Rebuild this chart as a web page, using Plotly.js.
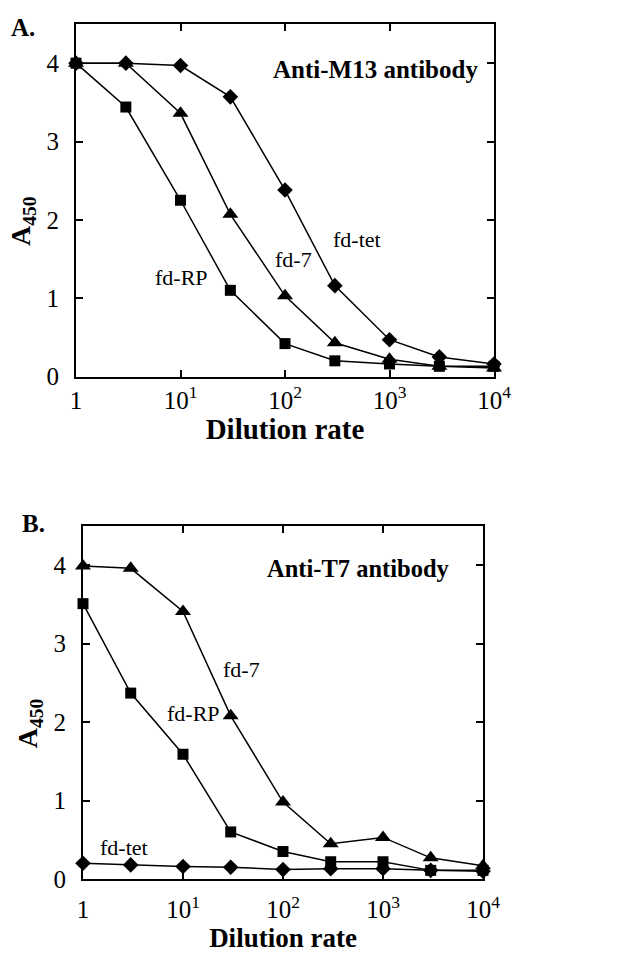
<!DOCTYPE html>
<html>
<head>
<meta charset="utf-8">
<script src="https://cdn.plot.ly/plotly-3.0.1.min.js"></script>
<style>html,body{margin:0;padding:0;background:#fff;}#chart{width:620px;height:963px;}</style>
</head>
<body>
<div id="chart"></div>
<script>
// Dilution rates (x values)
const dilution = [1, 3, 10, 30, 100, 300, 1000, 3000, 10000];
const xTickVals = [1, 10, 100, 1000, 10000];
const xTickText = ['1', '10<sup>1</sup>', '10<sup>2</sup>', '10<sup>3</sup>', '10<sup>4</sup>'];
const yTickVals = [0, 1, 2, 3, 4];

// Panel A: Anti-M13 antibody
const a_fdRP  = [4.00, 3.44, 2.25, 1.10, 0.42, 0.20, 0.16, 0.13, 0.13];
const a_fd7   = [4.00, 4.00, 3.36, 2.07, 1.03, 0.43, 0.22, 0.13, 0.11];
const a_fdTet = [4.00, 4.00, 3.97, 3.57, 2.38, 1.16, 0.47, 0.25, 0.16];

// Panel B: Anti-T7 antibody
const b_fdRP  = [3.51, 2.37, 1.59, 0.60, 0.35, 0.22, 0.22, 0.11, 0.11];
const b_fd7   = [3.99, 3.96, 3.41, 2.08, 0.98, 0.45, 0.53, 0.27, 0.17];
const b_fdTet = [0.20, 0.18, 0.16, 0.15, 0.12, 0.13, 0.13, 0.11, 0.10];

const W = 620, H = 963;
const FONT = 'Liberation Serif';
const px = v => v / W;
const py = v => 1 - v / H;

function series(y, sym, size, xa, ya, name) {
  return {
    x: dilution, y: y, xaxis: xa, yaxis: ya, name: name,
    type: 'scatter', mode: 'lines+markers', cliponaxis: false,
    line: {color: '#000', width: 1.5},
    marker: {symbol: sym, size: size, color: '#000'},
    showlegend: false
  };
}

const data = [
  series(a_fdRP, 'square', 11, 'x', 'y', 'fd-RP'),
  series(a_fd7, 'triangle-up', 14, 'x', 'y', 'fd-7'),
  series(a_fdTet, 'diamond', 12, 'x', 'y', 'fd-tet'),
  series(b_fdRP, 'square', 11, 'x2', 'y2', 'fd-RP'),
  series(b_fd7, 'triangle-up', 14, 'x2', 'y2', 'fd-7'),
  series(b_fdTet, 'diamond', 12, 'x2', 'y2', 'fd-tet')
];

function xAxis(domain, anchor, labelGap, titleSize) {
  return {
    domain: domain, anchor: anchor, type: 'log', range: [0, 4],
    tickmode: 'array', tickvals: xTickVals, ticktext: xTickText,
    ticks: 'inside', ticklen: 7, tickwidth: 1.5, tickcolor: '#000',
    showline: true, linewidth: 2, linecolor: '#000', mirror: 'ticks',
    showgrid: false, zeroline: false, ticklabelstandoff: labelGap,
    tickfont: {family: FONT, size: 25, color: '#000'},
    title: {text: '<b>Dilution rate</b>', font: {family: FONT, size: titleSize, color: '#000'}, standoff: 0}
  };
}
function yAxis(domain, anchor) {
  return {
    domain: domain, anchor: anchor, range: [0, 4.5],
    tickmode: 'array', tickvals: yTickVals,
    ticks: 'inside', ticklen: 7, tickwidth: 1.5, tickcolor: '#000',
    showline: true, linewidth: 2, linecolor: '#000', mirror: 'ticks',
    showgrid: false, zeroline: false, ticklabelstandoff: 10,
    tickfont: {family: FONT, size: 25, color: '#000'},
    title: {text: '<b>A<sub>450</sub>\u00a0\u00a0\u00a0\u00a0\u00a0\u00a0</b>', font: {family: FONT, size: 28, color: '#000'}, standoff: 8}
  };
}

function label(text, x, y, size, bold, xanchor) {
  return {
    text: bold ? '<b>' + text + '</b>' : text,
    xref: 'paper', yref: 'paper', x: px(x), y: py(y),
    xanchor: xanchor || 'center', yanchor: 'middle', showarrow: false,
    font: {family: FONT, size: size, color: '#000'}
  };
}

const layout = {
  width: W, height: H,
  margin: {l: 0, r: 0, t: 0, b: 0},
  paper_bgcolor: '#fff', plot_bgcolor: '#fff',
  font: {family: FONT, color: '#000'},
  xaxis: xAxis([px(76), px(494)], 'y', 0, 29),
  yaxis: yAxis([py(376.5), py(24)], 'x'),
  xaxis2: xAxis([px(83), px(483)], 'y2', 7, 27),
  yaxis2: yAxis([py(879), py(526)], 'x2'),
  annotations: [
    label('A.', 23, 28, 25, true),
    label('Anti-M13 antibody', 480, 70, 25, true, 'right'),
    label('fd-tet', 357, 239, 22, false),
    label('fd-7', 293, 259, 22, false),
    label('fd-RP', 181, 277, 22, false),
    label('B.', 33, 523, 25, true),
    label('Anti-T7 antibody', 452, 568, 24.5, true, 'right'),
    label('fd-7', 241, 669, 22, false),
    label('fd-RP', 193, 713, 22, false),
    label('fd-tet', 124, 847, 22, false)
  ]
};

Plotly.newPlot('chart', data, layout, {displayModeBar: false});
</script>
</body>
</html>
